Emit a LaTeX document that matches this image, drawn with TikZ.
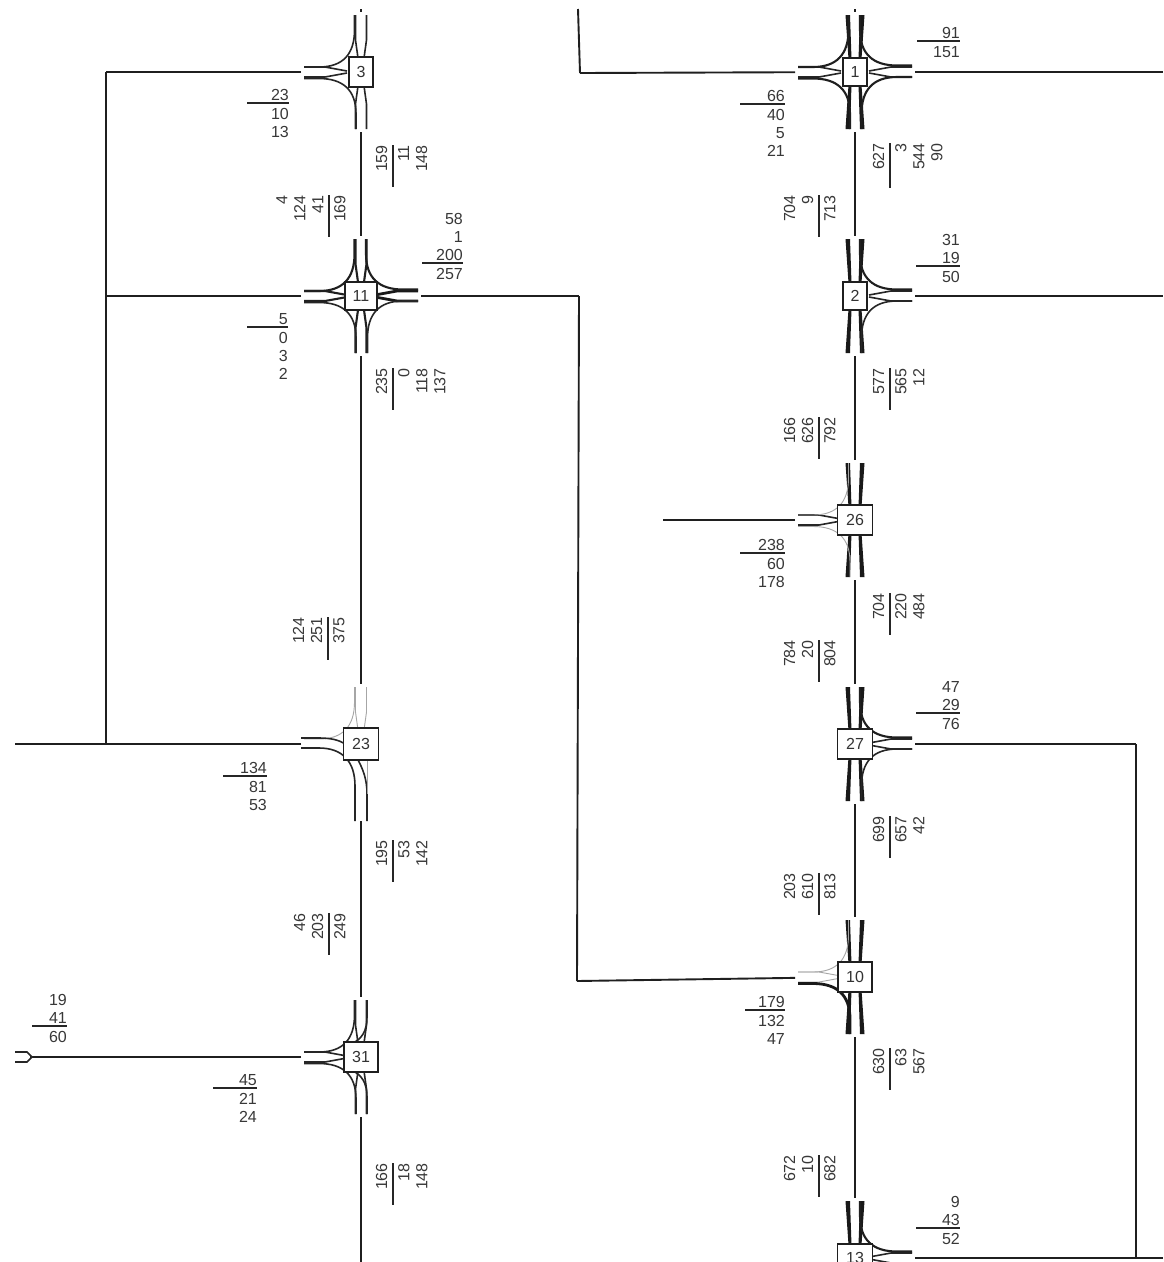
\documentclass[tikz,border=0pt]{standalone}
\usepackage{fontspec}
\setmainfont{Liberation Sans}
\tikzset{
  road/.style={line width=1.9pt,draw=black!88},
  rl/.style={line width=1.6pt,draw=black!85},
  lab/.style={inner sep=0pt,align=right,text=black!78,font=\fontsize{16}{18}\selectfont},
  jbox/.style={draw=black!88,line width=1.6pt,fill=white,inner sep=0pt,text=black!80,font=\fontsize{16}{16}\selectfont},
  fa/.style={line width=.9pt,draw=black!35},
  fb/.style={line width=1.6pt,draw=black!85},
  fc/.style={line width=2.1pt,draw=black!88},
  fd/.style={line width=2.8pt,draw=black!90},
  barfill/.style={fill=black!90,draw=none},
}
% vertical arm pointing north, rotated: #1 angle, #2 style
\newcommand\jarm[2]{%
  \draw[#2,rotate=#1] (-5.5,-57) -- (-5.5,-32) -- (-3,-14);
  \draw[#2,rotate=#1] (5.5,-57) -- (5.5,-32) -- (3,-14);
}
% heavy arm, leaning a little toward the junction
\newcommand\jbar[1]{%
  \fill[barfill,rotate=#1] (-9.5,-57) -- (-5,-57) -- (-3.5,-13) -- (-6.5,-13) -- cycle;
  \fill[barfill,rotate=#1] (9.5,-57) -- (5,-57) -- (3.5,-13) -- (6.5,-13) -- cycle;
}
% side arm, drawn pointing north and rotated: its lines close to a point
\newcommand\jside[2]{%
  \draw[#2,rotate=#1] (-5,-57) -- (-5,-36) -- (-1,-14);
  \draw[#2,rotate=#1] (5,-57) -- (5,-36) -- (1,-14);
}
% turning curve from north arm to west arm, rotated
\newcommand\jturn[2]{%
  \draw[#2,rotate=#1] (-6.5,-57) -- (-6.5,-42) .. controls (-6.5,-18) and (-18,-5) .. (-42,-5) -- (-57,-5);
}
\newcommand\junction[6]{%
  \node[jbox,minimum width=#5pt,minimum height=#6pt] (#1) at (#2,#3) {#4};
}
\newcommand\flares[3]{\begin{scope}[shift={(#1,#2)}]#3\end{scope}}
% horizontal stack: name, right x, rule y, left x, above, below
\newcommand\hst[6]{%
  \draw[rl] (#4,#3) -- (#2,#3);
  \node[lab,anchor=south east] (#1a) at ([yshift=2pt]#2,#3) {#5};
  \node[lab,anchor=north east] (#1b) at ([yshift=-5pt]#2,#3) {#6};
}
% vertical stack: name, rule x, top y, bottom y, left of rule, right of rule
\newcommand\vst[6]{%
  \draw[rl] (#2,#3) -- (#2,#4);
  \node[lab,rotate=90,anchor=south east] (#1a) at ([xshift=-5.5pt]#2,#3) {#5};
  \node[lab,rotate=90,anchor=north east] (#1b) at ([xshift=5pt]#2,#3) {#6};
}
\begin{document}
\begin{tikzpicture}[x=1pt,y=-1pt]
\useasboundingbox (0,0) rectangle (1163,1262);
\fill[white] (0,0) rectangle (1163,1262);

% flares
\flares{361}{72}{\jarm{0}{fb}\jside{90}{fb}\jarm{180}{fb}\jturn{0}{fb}\jturn{90}{fb}}
\flares{361}{296}{\jarm{0}{fc}\jside{90}{fc}\jarm{180}{fc}\jside{270}{fd}\jturn{0}{fc}\jturn{90}{fb}\jturn{180}{fb}\jturn{270}{fc}}
\flares{361}{744}{\jarm{0}{fa}\jturn{0}{fa}\draw[fb] (-60,-6) -- (-42,-6) .. controls (-30,-6) and (-22,-4) .. (-16,0);\draw[fb] (-60,4) -- (-42,4) .. controls (-18,4) and (-6,18) .. (-6,42) -- (-6,77);\draw[fb] (6,77) -- (6,50) .. controls (6,35) and (2,25) .. (-4,14);\draw[fa] (6,14) -- (6,50);}
\flares{361}{1057}{\jarm{0}{fb}\jside{90}{fb}\jarm{180}{fb}\jturn{0}{fb}\jturn{90}{fb}\draw[fb] (6,-57) -- (6,-40) .. controls (6,-25) and (0,-18) .. (-8,-14);\draw[fb] (6,57) -- (6,40) .. controls (6,25) and (0,18) .. (-8,14);}
\flares{855}{72}{\jbar{0}\jbar{180}\jside{90}{fb}\jside{270}{fb}\jturn{0}{fc}\jturn{90}{fc}\jturn{180}{fc}\jturn{270}{fc}}
\flares{855}{296}{\jbar{0}\jbar{180}\jside{270}{fb}\jturn{180}{fb}\jturn{270}{fc}}
\flares{855}{520}{\jbar{0}\jbar{180}\jside{90}{fb}\jturn{0}{fa}\jturn{90}{fa}}
\flares{855}{744}{\jbar{0}\jbar{180}\jside{270}{fb}\jturn{180}{fb}\jturn{270}{fc}}
\flares{855}{977}{\jbar{0}\jbar{180}\jside{90}{fa}\jturn{0}{fa}\jturn{90}{fd}}
\flares{855}{1258}{\jbar{0}\jside{270}{fb}\jturn{270}{fc}}

% junctions
\junction{n3}{361}{72}{3}{24}{30}
\junction{n11}{361}{296}{11}{32}{28}
\junction{n23}{361}{744}{23}{35}{32}
\junction{n31}{361}{1057}{31}{34}{30}
\junction{n1}{855}{72}{1}{24}{28}
\junction{n2}{855}{296}{2}{24}{28}
\junction{n26}{855}{520}{26}{35}{30}
\junction{n27}{855}{744}{27}{35}{30}
\junction{n10}{855}{977}{10}{34}{30}
\junction{n13}{855}{1258}{13}{35}{28}

% free ends and corners
\coordinate (t3) at (361,9);
\coordinate (t1) at (855,9);
\coordinate (b31) at (361,1262);
\coordinate (a3) at (106,72);
\coordinate (a11) at (106,296);
\coordinate (a23) at (106,744);
\coordinate (l23) at (15,744);
\coordinate (l31) at (30,1057);
\coordinate (c11) at (579,296);
\coordinate (c10) at (577,981);
\coordinate (c1) at (580,73);
\coordinate (c1t) at (578,9);
\coordinate (r1) at (1163,72);
\coordinate (r2) at (1163,296);
\coordinate (e26) at (663,520);
\coordinate (c27) at (1136,744);
\coordinate (c13) at (1136,1258);
\coordinate (r13) at (1163,1258);

% roads
\begin{scope}[road]
\draw[shorten >=60pt] (t3) -- (n3.center);
\draw[shorten <=60pt,shorten >=60pt] (n3.center) -- (n11.center);
\draw[shorten <=60pt,shorten >=60pt] (n11.center) -- (n23.center);
\draw[shorten <=77pt,shorten >=60pt] (n23.center) -- (n31.center);
\draw[shorten <=60pt] (n31.center) -- (b31);
\draw[shorten <=60pt] (n3.center) -- (a3);
\draw[shorten <=60pt] (n11.center) -- (a11);
\draw (a3) -- (a23);
\draw[shorten <=60pt] (n23.center) -- (l23);
\draw[shorten <=60pt] (n31.center) -- (l31);
\draw[shorten <=60pt] (n11.center) -- (c11);
\draw (c11) -- (c10);
\draw[shorten >=60pt] (c10) -- (n10.center);
\draw[shorten >=60pt] (t1) -- (n1.center);
\draw[shorten <=60pt,shorten >=60pt] (n1.center) -- (n2.center);
\draw[shorten <=60pt,shorten >=60pt] (n2.center) -- (n26.center);
\draw[shorten <=60pt,shorten >=60pt] (n26.center) -- (n27.center);
\draw[shorten <=60pt,shorten >=60pt] (n27.center) -- (n10.center);
\draw[shorten <=60pt,shorten >=60pt] (n10.center) -- (n13.center);
\draw[shorten <=60pt] (n1.center) -- (c1);
\draw (c1) -- (c1t);
\draw[shorten <=60pt] (n1.center) -- (r1);
\draw[shorten <=60pt] (n2.center) -- (r2);
\draw[shorten <=60pt] (n26.center) -- (e26);
\draw[shorten <=60pt] (n27.center) -- (c27);
\draw (c27) -- (c13);
\draw[shorten <=60pt] (n13.center) -- (r13);
\end{scope}
\draw[fb] (15,1052) -- (27,1052) -- (32,1057) -- (27,1062) -- (15,1062);

% left column stacks
\hst{s1}{289}{103}{247}{23}{10\\13}
\vst{s2}{393}{145}{187}{159}{11\\148}
\vst{s3}{329}{195}{237}{4\\124\\41}{169}
\hst{s4}{463}{263}{422}{58\\1\\200}{257}
\hst{s5}{288}{327}{247}{5}{0\\3\\2}
\vst{s6}{393}{368}{410}{235}{0\\118\\137}
\vst{s7}{328}{617}{660}{124\\251}{375}
\hst{s8}{267}{776}{223}{134}{81\\53}
\vst{s9}{393}{840}{882}{195}{53\\142}
\vst{s10}{329}{913}{955}{46\\203}{249}
\hst{s11}{67}{1026}{32}{19\\41}{60}
\hst{s12}{257}{1088}{213}{45}{21\\24}
\vst{s13}{393}{1163}{1205}{166}{18\\148}

% right column stacks
\hst{r1s}{960}{41}{917}{91}{151}
\hst{r2s}{785}{104}{740}{66}{40\\5\\21}
\vst{r3s}{890}{143}{188}{627}{3\\544\\90}
\vst{r4s}{819}{195}{237}{704\\9}{713}
\hst{r5s}{960}{266}{916}{31\\19}{50}
\vst{r6s}{890}{368}{410}{577}{565\\12}
\vst{r7s}{819}{417}{459}{166\\626}{792}
\hst{r8s}{785}{553}{740}{238}{60\\178}
\vst{r9s}{890}{593}{635}{704}{220\\484}
\vst{r10s}{819}{640}{682}{784\\20}{804}
\hst{r11s}{960}{713}{916}{47\\29}{76}
\vst{r12s}{890}{816}{858}{699}{657\\42}
\vst{r13s}{819}{873}{915}{203\\610}{813}
\hst{r14s}{785}{1010}{745}{179}{132\\47}
\vst{r15s}{890}{1048}{1090}{630}{63\\567}
\vst{r16s}{819}{1155}{1197}{672\\10}{682}
\hst{r17s}{960}{1228}{916}{9\\43}{52}
\end{tikzpicture}
\end{document}
